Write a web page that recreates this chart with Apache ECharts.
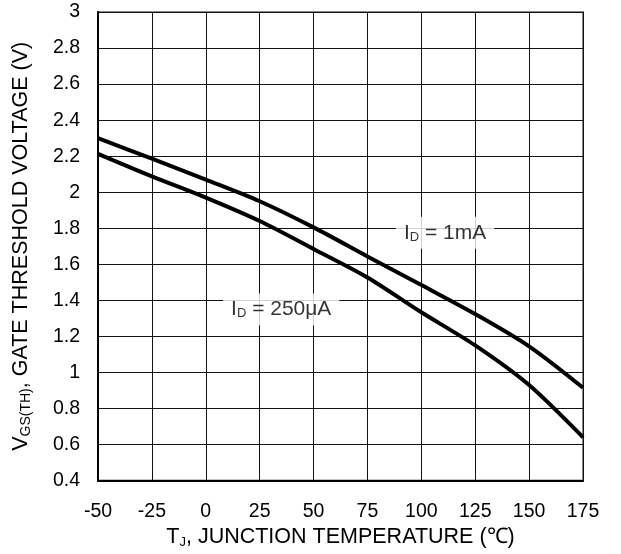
<!DOCTYPE html>
<html><head><meta charset="utf-8">
<script src="https://cdn.jsdelivr.net/npm/echarts@6/dist/echarts.min.js"></script>
<style>html,body{margin:0;padding:0;background:#fff}#c{width:621px;height:554px}</style>
</head><body><div id="c"></div>
<script>
const temps = [-50, -25, 0, 25, 50, 75, 100, 125, 150, 175];
const vth1mA = [2.30, 2.186, 2.07, 1.95, 1.805, 1.644, 1.485, 1.324, 1.145, 0.915];
const vth250uA = [2.213, 2.088, 1.97, 1.84, 1.685, 1.527, 1.334, 1.15, 0.93, 0.64];
const labels = [
  {name: '1mA', x: 111, y: 1.775, text: '{n|I}{s|D}{n| = 1mA}'},
  {name: '250uA', x: 35, y: 1.35, text: '{n|I}{s|D}{n| = 250\u03bcA}'}
];
const ff = '"Liberation Sans", Arial, sans-serif';
function richStyle(size, subSize, subPad) {
  return {
    n: {fontSize: size, fontFamily: ff, color: '#000'},
    s: {fontSize: subSize, fontFamily: ff, color: '#000', padding: [subPad, 0, 0, 0]}
  };
}
const chart = echarts.init(document.getElementById('c'));
chart.setOption({
  animation: false,
  backgroundColor: '#fff',
  grid: {left: 98, top: 12, right: 38, bottom: 72, show: true, borderColor: '#888', borderWidth: 2},
  xAxis: {
    type: 'value', min: -50, max: 175, interval: 25,
    axisLine: {show: true, onZero: false, lineStyle: {color: '#000', width: 2}},
    axisTick: {show: false},
    splitLine: {show: true, lineStyle: {color: '#111', width: 1}},
    axisLabel: {fontSize: 19.5, fontFamily: ff, color: '#000', margin: 21},
    name: '{n|T}{s|J}{n|, JUNCTION TEMPERATURE (\u2103)}',
    nameLocation: 'middle', nameGap: 43,
    nameTextStyle: {rich: richStyle(21.5, 13, 10)}
  },
  yAxis: {
    type: 'value', min: 0.4, max: 3, interval: 0.2,
    axisLine: {show: true, onZero: false, lineStyle: {color: '#000', width: 2}},
    axisTick: {show: false},
    splitLine: {show: true, lineStyle: {color: '#111', width: 1}},
    axisLabel: {fontSize: 19.5, fontFamily: ff, color: '#000', margin: 18,
      formatter: v => String(Math.round(v * 10) / 10)},
    name: '{n|V}{s|GS(TH)}{n|, GATE THRESHOLD VOLTAGE (V)}',
    nameLocation: 'middle', nameGap: 65, nameRotate: 90,
    nameTextStyle: {rich: richStyle(21.5, 14, 9)}
  },
  series: [
    {type: 'line', data: temps.map((t, i) => [t, vth1mA[i]]), smooth: 0.3, symbol: 'none',
      lineStyle: {color: '#000', width: 4}, z: 3},
    {type: 'line', data: temps.map((t, i) => [t, vth250uA[i]]), smooth: 0.3, symbol: 'none',
      lineStyle: {color: '#000', width: 4}, z: 3},
    {type: 'scatter', symbolSize: 0, z: 5,
      data: labels.map(l => ({value: [l.x, l.y], label: {formatter: l.text}})),
      label: {show: true, position: 'inside', backgroundColor: '#fff', padding: [5, 8, 5, 8],
        rich: richStyle(21, 13, 9)}
    }
  ]
});
</script></body></html>
